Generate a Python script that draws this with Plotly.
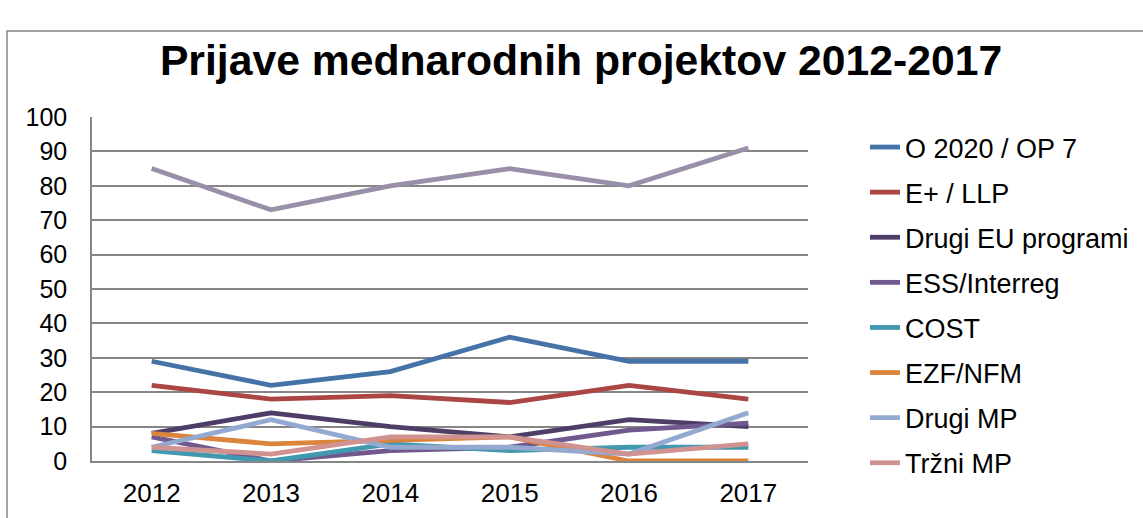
import plotly.graph_objects as go

years = ["2012", "2013", "2014", "2015", "2016", "2017"]
o2020 = [29, 22, 26, 36, 29, 29]
eplus = [22, 18, 19, 17, 22, 18]
drugi_eu = [8, 14, 10, 7, 12, 10]
ess = [7, 0, 3, 4, 9, 11]
cost = [3, 0, 5, 3, 4, 4]
ezf = [8, 5, 6, 7, 0, 0]
drugi_mp = [4, 12, 4, 4, 2, 14]
trzni_mp = [4, 2, 7, 7, 2, 5]
skupaj = [85, 73, 80, 85, 80, 91]

series = [
    ("skupaj", skupaj, "#9A8FA8", False),
    ("O 2020 / OP 7", o2020, "#4572A7", True),
    ("E+ / LLP", eplus, "#AA4643", True),
    ("Drugi EU programi", drugi_eu, "#4E3D66", True),
    ("ESS/Interreg", ess, "#71588F", True),
    ("COST", cost, "#4198AF", True),
    ("EZF/NFM", ezf, "#DB843D", True),
    ("Drugi MP", drugi_mp, "#93A9CF", True),
    ("Tržni MP", trzni_mp, "#D19392", True),
]

fig = go.Figure()
for i, (name, vals, color, show) in enumerate(series):
    fig.add_trace(go.Scatter(
        x=years, y=vals, name=name, mode="lines",
        line=dict(color=color, width=4.8),
        showlegend=show, legendgroup=f"g{i}",
    ))

W, H = 1143, 518
L, R, T, B = 92, 808, 117, 461
fig.update_layout(
    width=W, height=H,
    margin=dict(l=L, r=W - R, t=T, b=H - B, pad=0, autoexpand=False),
    paper_bgcolor="white", plot_bgcolor="white",
    font=dict(family="Liberation Sans, Arial, sans-serif", size=25, color="black"),
    title=dict(text="<b>Prijave mednarodnih projektov 2012-2017</b>",
               x=581 / W, xref="container", xanchor="center",
               y=1 - 60 / H, yref="container", yanchor="middle",
               font=dict(size=42.7, color="black")),
    xaxis=dict(showgrid=False, showline=True, linecolor="#868686", linewidth=1.5,
               ticks="", tickfont=dict(size=26), ticklabelstandoff=8,
               range=[-0.5, 5.5]),
    yaxis=dict(range=[0, 100], dtick=10, showgrid=True, gridcolor="#868686",
               gridwidth=1.5, showline=True, linecolor="#868686", linewidth=1.5,
               zeroline=False, ticks="", tickfont=dict(size=25), ticklabelstandoff=18),
    legend=dict(x=(865 - L) / (R - L), xanchor="left",
                y=1 - (123 - T) / (B - T),
                yanchor="top", tracegroupgap=7, font=dict(size=27),
                bgcolor="rgba(0,0,0,0)", maxheight=420),
    shapes=[dict(type="rect", xref="paper", yref="paper",
                 x0=(7 - L) / (R - L), x1=(1160 - L) / (R - L),
                 y0=(B - 530) / (B - T), y1=(B - 31) / (B - T),
                 line=dict(color="#868686", width=1.5), fillcolor="rgba(0,0,0,0)",
                 layer="below")],
)

fig.write_html("out.html",
               config={"displayModeBar": False},
               post_script="document.body.style.margin='0';")
